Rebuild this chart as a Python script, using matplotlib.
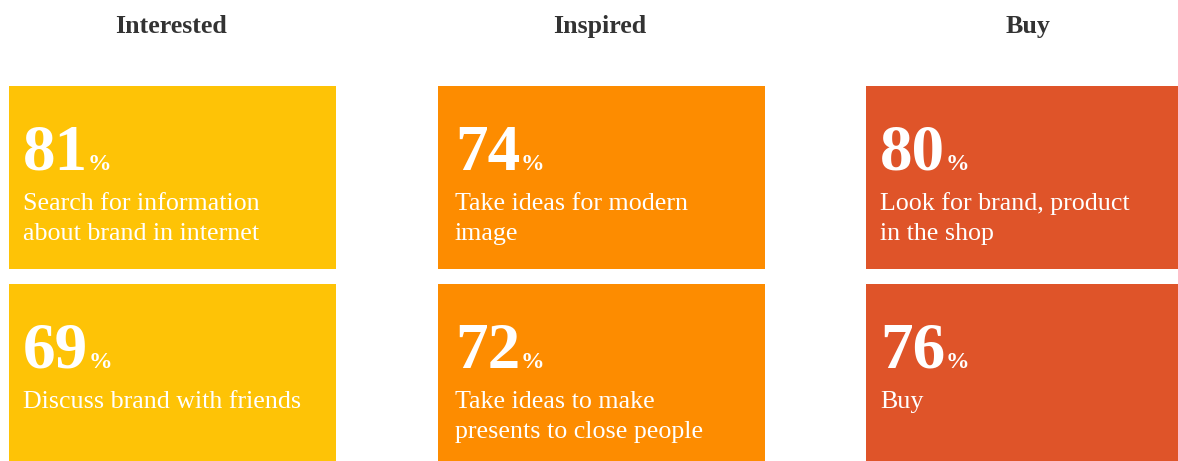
import matplotlib.pyplot as plt
from matplotlib.patches import Rectangle

stages = ['Interested', 'Inspired', 'Buy']
colors = ['#FEC306', '#FD8C00', '#DF5429']
top_values = [81, 74, 80]
top_labels = ['Search for information\nabout brand in internet',
              'Take ideas for modern\nimage',
              'Look for brand, product\nin the shop']
bottom_values = [69, 72, 76]
bottom_labels = ['Discuss brand with friends',
                 'Take ideas to make\npresents to close people',
                 'Buy']

W, H = 1178, 461
fig = plt.figure(figsize=(W / 100, H / 100), dpi=100)
ax = fig.add_axes([0, 0, 1, 1])
ax.set_xlim(0, W)
ax.set_ylim(H, 0)
ax.axis('off')

serif = 'Liberation Serif'
box_w = 327
col_x = [9, 437.5, 866]
text_x = [23, 455, 880]
row_y = [86, 284]
row_h = [183, 180]

def card(x, tx, y, h, color, value, label):
    ax.add_patch(Rectangle((x, y), box_w, h, facecolor=color, edgecolor='none'))
    num = ax.text(tx, y + 83.5, str(value), color='white', fontsize=47,
                  fontweight='bold', family=serif, va='baseline', ha='left')
    fig.canvas.draw()
    bb = num.get_window_extent()
    # % sign sits right after the number
    x_end = ax.transData.inverted().transform((bb.x1, bb.y0))[0]
    ax.text(x_end, y + 83.5, '%', color='white', fontsize=17,
            fontweight='bold', family=serif, va='baseline', ha='left')
    lines = label.split('\n')
    for k, line in enumerate(lines):
        ax.text(tx, y + 124 + 30 * k, line, color='white', fontsize=18.7,
                family=serif, va='baseline', ha='left')

for i, stage in enumerate(stages):
    x = col_x[i]
    ax.text(x + box_w / 2 - 1, 33, stage, color='#333333', fontsize=18.7,
            fontweight='bold', family=serif, ha='center', va='baseline')
    card(x, text_x[i], row_y[0], row_h[0], colors[i], top_values[i], top_labels[i])
    card(x, text_x[i], row_y[1], row_h[1], colors[i], bottom_values[i], bottom_labels[i])

fig.savefig('out.png', dpi=100, facecolor='white')
